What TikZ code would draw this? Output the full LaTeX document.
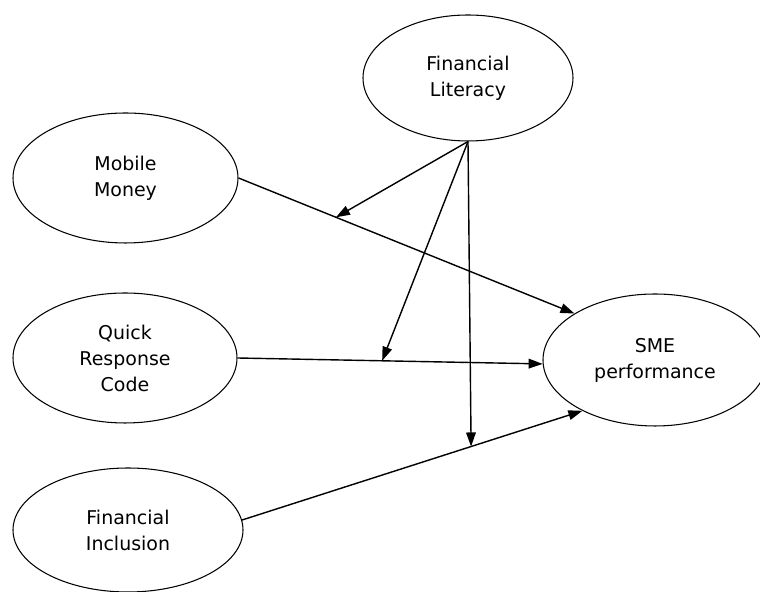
\documentclass[tikz,border=0pt]{standalone}
\usepackage{fontspec}
\setmainfont{DejaVu Sans}
\usetikzlibrary{shapes.geometric,arrows.meta}

\tikzstyle{construct}=[ellipse, draw, line width=0.6pt, inner sep=0pt, align=center, font=\fontsize{10.8}{14.8}\selectfont]
\tikzstyle{link}=[line width=0.8pt, -{Triangle[length=8pt,width=5.5pt]}]

\begin{document}
\begin{tikzpicture}
\useasboundingbox (0,0) rectangle (15.2,11.84);

\node[construct, minimum width=4.2cm, minimum height=2.52cm] (v5) at (9.36,10.28) {Financial\\Literacy};

\node[construct, minimum width=4.5cm, minimum height=2.6cm] (v1) at (2.51,8.28) {Mobile\\Money};
\node[construct, minimum width=4.48cm, minimum height=2.6cm] (v2) at (2.5,4.68) {Quick\\Response\\Code};
\node[construct, minimum width=4.6cm, minimum height=2.48cm] (v3) at (2.56,1.24) {Financial\\Inclusion};

\node[construct, minimum width=4.48cm, minimum height=2.64cm] (v4) at (13.1,4.64) {SME\\performance};

\draw[link] (v1.east) -- coordinate[pos=0.29] (m1) (v4.150);
\draw[link] (v2.east) -- coordinate[pos=0.474] (m2) (v4.182);
\draw[link] (v3.5) -- coordinate[pos=0.673] (m3) (v4.215);

\draw[link] (v5.south) -- (m1);
\draw[link] (v5.south) -- (m2);
\draw[link] (v5.south) -- (m3);
\end{tikzpicture}
\end{document}
